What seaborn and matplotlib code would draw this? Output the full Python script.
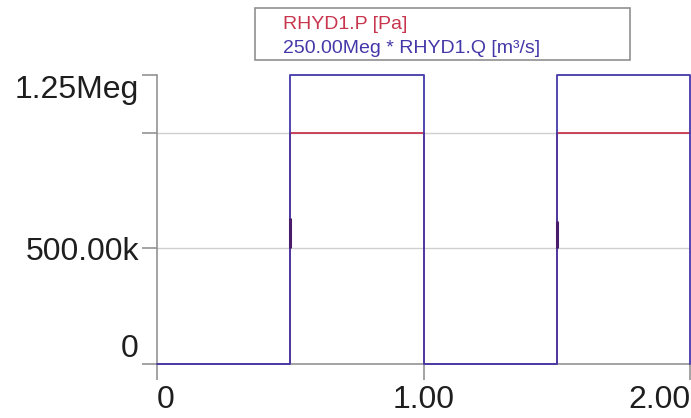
import matplotlib
matplotlib.use('Agg')
import matplotlib.pyplot as plt
import seaborn as sns
from matplotlib.patches import Rectangle

sns.set_style('white')
plt.rcParams['font.family'] = ['Liberation Sans', 'DejaVu Sans']

# ---- data ----
time_p = [0.0, 0.5, 0.5, 1.0, 1.0, 1.5, 1.5, 2.0]
pressure = [0, 0, 1.0e6, 1.0e6, 0, 0, 1.0e6, 1.0e6]
time_q = [0.0, 0.5, 0.5, 1.0, 1.0, 1.5, 1.5, 2.0, 2.0]
flow_scaled = [0, 0, 1.25e6, 1.25e6, 0, 0, 1.25e6, 1.25e6, 0]
transient_times = [0.5, 1.5]
transient_low = [0.50e6, 0.50e6]
transient_high = [0.63e6, 0.62e6]

x_ticks = [0, 1.0, 2.0]
x_labels = ['0', '1.00', '2.00']
y_ticks = [0, 0.5e6, 1.0e6, 1.25e6]
y_labels = ['0', '500.00k', '', '1.25Meg']
legend_labels = ['RHYD1.P [Pa]', '250.00Meg * RHYD1.Q [m\u00b3/s]']

red = '#c8364e'
blue = '#4438a8'
dark = '#4a1d6a'
axis_gray = '#8a8a8a'
grid_gray = '#cfcfcf'

fig = plt.figure(figsize=(6.91, 4.18), dpi=100)
ax = fig.add_axes([157 / 691, 1 - 364 / 418, (690 - 157) / 691, (364 - 75) / 418])

for yv in [0.5e6, 1.0e6]:
    ax.axhline(yv, color=grid_gray, lw=1.0, zorder=0)

sns.lineplot(x=time_p, y=pressure, sort=False, estimator=None, color=red,
             lw=1.3, ax=ax, clip_on=False, zorder=2)
sns.lineplot(x=time_q, y=flow_scaled, sort=False, estimator=None, color=blue,
             lw=1.3, ax=ax, clip_on=False, zorder=3)
ax.vlines(transient_times, transient_low, transient_high, color=dark, lw=2.2, zorder=4)

ax.set_xlim(0, 2.0)
ax.set_ylim(0, 1.25e6)

ax.set_xticks(x_ticks)
ax.set_xticklabels(x_labels, fontsize=23)
ax.set_yticks(y_ticks)
ax.set_yticklabels(y_labels, fontsize=23)

ax.tick_params(axis='both', direction='out', color=axis_gray, width=1.1,
               labelcolor='#1e1e1e',
               bottom=True, left=True, top=False, right=False)
ax.tick_params(axis='x', length=11.5, pad=3.5)
ax.tick_params(axis='y', length=11, pad=2)

for s in ['top', 'right']:
    ax.spines[s].set_visible(False)
for s in ['left', 'bottom']:
    ax.spines[s].set_color(axis_gray)
    ax.spines[s].set_linewidth(1.1)

# label alignments like the reference (clamped at axis ends)
ylabs = ax.get_yticklabels()
ylabs[0].set_va('bottom')
ylabs[3].set_va('top')
xlabs = ax.get_xticklabels()
xlabs[0].set_ha('left')
xlabs[2].set_ha('right')

# legend box with coloured text
fig.patches.append(Rectangle((255 / 691, 1 - 60 / 418), 375 / 691, 52 / 418,
                             transform=fig.transFigure, fill=False,
                             edgecolor='#909090', lw=1.2))
fig.text(283 / 691, 1 - 29 / 418, legend_labels[0], color=red, fontsize=14,
         va='baseline', ha='left')
fig.text(283 / 691, 1 - 53 / 418, legend_labels[1], color=blue, fontsize=14,
         va='baseline', ha='left')

fig.savefig('out.png', dpi=100)
